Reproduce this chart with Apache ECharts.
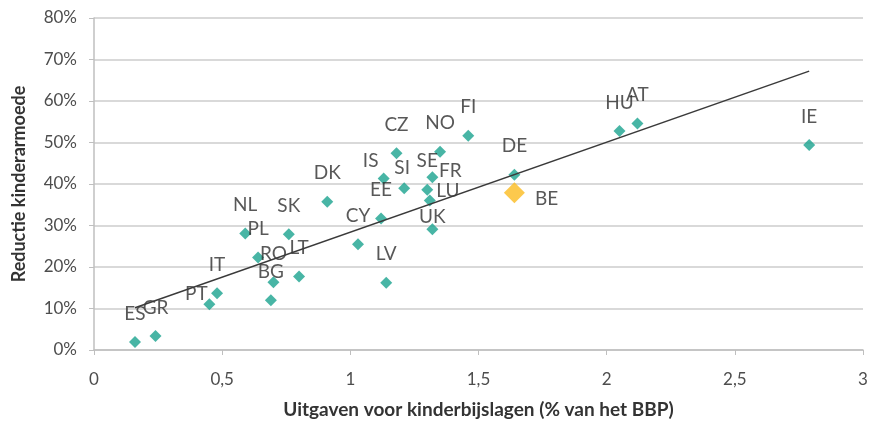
<!DOCTYPE html>
<html>
<head>
<meta charset="utf-8">
<script src="https://cdn.jsdelivr.net/npm/echarts@6/dist/echarts.min.js"></script>
<style>
html,body{margin:0;padding:0;background:#fff;}
#chart{width:869px;height:421px;}
</style>
</head>
<body>
<div id="chart"></div>
<script>
// ---- data ----
var countries = ['ES','GR','PT','IT','NL','PL','SK','RO','BG','LT','DK','CY','EE','LV','IS','CZ','SI','NO','SE','FR','LU','UK','FI','DE','HU','AT','IE'];
var spending  = [0.16,0.24,0.45,0.48,0.59,0.64,0.76,0.70,0.69,0.80,0.91,1.03,1.12,1.14,1.13,1.18,1.21,1.35,1.30,1.32,1.31,1.32,1.46,1.64,2.05,2.12,2.79];
var reduction = [1.9,3.4,11.0,13.7,28.1,22.3,27.9,16.3,12.0,17.7,35.7,25.5,31.7,16.2,41.3,47.4,39.0,47.8,38.6,41.6,36.0,29.1,51.6,42.2,52.8,54.6,49.4];
var beName = 'BE';
var beSpending = 1.64;
var beReduction = 37.9;
var trendX = [0.16, 2.79];
var trendY = [10.2, 67.2];
var xTicks = ['0','0,5','1','1,5','2','2,5','3'];

// ---- label placement (styling) ----
var labelOffsets = {
  PT: [-13, 18],
  IS: [-13, 11],
  SI: [-2, 8],
  FR: [18, 22],
  LU: [18, 19],
  UK: [0, 16]
};

var pts = countries.map(function (c, i) {
  var item = { name: c, value: [spending[i], reduction[i]] };
  if (labelOffsets[c]) item.label = { offset: labelOffsets[c] };
  return item;
});

var chart = echarts.init(document.getElementById('chart'));
var labelFont = 'Lato, "Open Sans", sans-serif';
chart.setOption({
  animation: false,
  grid: { left: 94, right: 6, top: 18, bottom: 71, containLabel: false, outerBoundsMode: 'none' },
  xAxis: {
    type: 'value', min: 0, max: 3, interval: 0.5,
    name: 'Uitgaven voor kinderbijslagen (% van het BBP)',
    nameLocation: 'middle', nameGap: 50,
    nameTextStyle: { fontFamily: labelFont, fontWeight: 'bold', fontSize: 19, color: '#333333' },
    axisLine: { show: true, lineStyle: { color: '#bfbfbf', width: 1.5 } },
    axisTick: { show: true, inside: false, length: 5, lineStyle: { color: '#bfbfbf' } },
    axisLabel: {
      margin: 21, fontFamily: labelFont, fontSize: 17, color: '#4d4d4d',
      formatter: function (v) { return xTicks[Math.round(v / 0.5)]; }
    },
    splitLine: { show: false }
  },
  yAxis: {
    type: 'value', min: 0, max: 80, interval: 10,
    name: 'Reductie kinderarmoede',
    nameLocation: 'middle', nameGap: 66,
    nameTextStyle: { fontFamily: labelFont, fontWeight: 'bold', fontSize: 18, color: '#333333' },
    axisLine: { show: true, lineStyle: { color: '#bfbfbf', width: 1.5 } },
    axisTick: { show: true, inside: false, length: 5, lineStyle: { color: '#bfbfbf' } },
    axisLabel: { margin: 17, fontFamily: labelFont, fontSize: 17, color: '#4d4d4d', formatter: '{value}%' },
    splitLine: { show: true, lineStyle: { color: '#d9d9d9', width: 2 } }
  },
  series: [
    {
      type: 'scatter',
      data: pts,
      symbol: 'diamond',
      symbolSize: 12,
      itemStyle: { color: '#1aa38f' },
      label: {
        show: true, position: 'top', distance: 13,
        formatter: '{b}', fontFamily: labelFont, fontSize: 19, color: '#2e2e2e'
      },
      z: 2
    },
    {
      type: 'scatter',
      data: [{ name: beName, value: [beSpending, beReduction] }],
      symbol: 'diamond',
      symbolSize: 21,
      itemStyle: { color: '#fbbb21' },
      label: {
        show: true, position: 'right', distance: 10, offset: [0, 6],
        formatter: '{b}', fontFamily: labelFont, fontSize: 19, color: '#2e2e2e'
      },
      z: 2
    },
    {
      type: 'line',
      data: trendX.map(function (x, i) { return [x, trendY[i]]; }),
      symbol: 'none',
      silent: true,
      lineStyle: { color: '#3a3a3a', width: 1.5 },
      z: 3
    }
  ]
});
</script>
</body>
</html>
